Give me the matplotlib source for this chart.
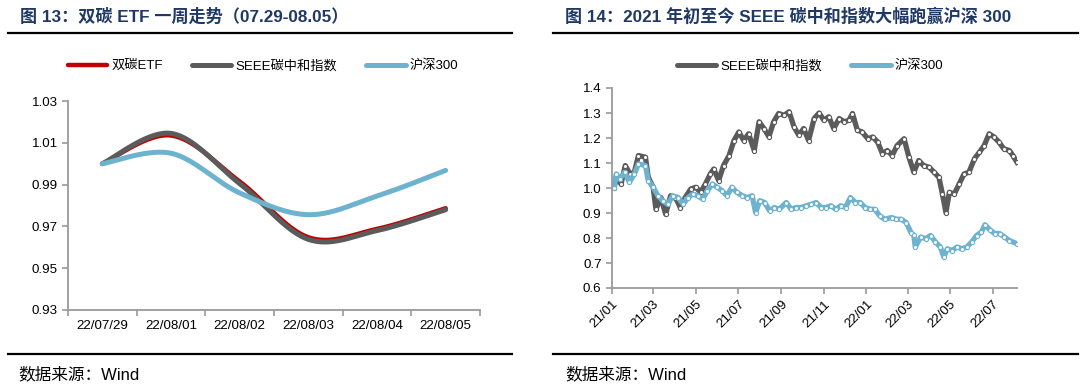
import numpy as np
import pandas as pd
import matplotlib
matplotlib.use('Agg')
import matplotlib.pyplot as plt
import matplotlib.dates as mdates
from matplotlib.lines import Line2D

plt.rcParams['font.family'] = ['Liberation Sans', 'Noto Sans CJK SC', 'DejaVu Sans']

# ---- left chart: one week of the ETF ----
week_days = ['22/07/29', '22/08/01', '22/08/02', '22/08/03', '22/08/04', '22/08/05']
etf = [1.000, 1.0135, 0.9915, 0.9648, 0.9688, 0.9787]
seee_week = [1.000, 1.0145, 0.9905, 0.9638, 0.9680, 0.9780]
hs300_week = [1.000, 1.0050, 0.9860, 0.9756, 0.9845, 0.9968]

# ---- right chart: since start of 2021 ----
seee_dates = ['2021-01-04', '2021-01-07', '2021-01-14', '2021-01-20', '2021-01-27', '2021-02-02',
              '2021-02-08', '2021-02-18', '2021-02-22', '2021-03-01', '2021-03-05', '2021-03-12',
              '2021-03-19', '2021-03-26', '2021-04-02', '2021-04-09', '2021-04-16', '2021-04-24',
              '2021-05-01', '2021-05-08', '2021-05-15', '2021-05-22', '2021-05-27', '2021-06-03',
              '2021-06-10', '2021-06-18', '2021-06-25', '2021-07-02', '2021-07-09', '2021-07-16',
              '2021-07-24', '2021-07-31', '2021-08-07', '2021-08-14', '2021-08-21', '2021-08-28',
              '2021-09-05', '2021-09-12', '2021-09-19', '2021-09-26', '2021-10-03', '2021-10-10',
              '2021-10-18', '2021-10-25', '2021-11-01', '2021-11-08', '2021-11-15', '2021-11-23',
              '2021-11-30', '2021-12-07', '2021-12-12', '2021-12-19', '2021-12-26', '2022-01-03',
              '2022-01-10', '2022-01-17', '2022-01-24', '2022-01-31', '2022-02-07', '2022-02-14',
              '2022-02-24', '2022-03-03', '2022-03-10', '2022-03-17', '2022-03-24', '2022-04-01',
              '2022-04-08', '2022-04-15', '2022-04-20', '2022-04-25', '2022-04-30', '2022-05-07',
              '2022-05-14', '2022-05-21', '2022-05-28', '2022-06-05', '2022-06-12', '2022-06-19',
              '2022-06-26', '2022-07-03', '2022-07-10', '2022-07-17', '2022-07-25', '2022-07-30',
              '2022-08-05']
seee = [1.000, 1.043, 1.016, 1.090, 1.056, 1.063, 1.130, 1.123, 1.043, 1.003, 0.915, 0.962,
        0.895, 0.969, 0.962, 0.922, 0.962, 0.996, 1.003, 0.983, 1.016, 1.056, 1.076, 1.030,
        1.090, 1.130, 1.190, 1.224, 1.190, 1.217, 1.150, 1.265, 1.238, 1.205, 1.265, 1.298,
        1.291, 1.305, 1.245, 1.211, 1.238, 1.190, 1.278, 1.300, 1.271, 1.285, 1.238, 1.278,
        1.265, 1.271, 1.298, 1.231, 1.224, 1.197, 1.204, 1.184, 1.137, 1.150, 1.130, 1.170,
        1.197, 1.123, 1.063, 1.110, 1.090, 1.083, 1.063, 1.043, 0.976, 0.902, 0.983, 0.976,
        1.016, 1.056, 1.063, 1.117, 1.143, 1.170, 1.217, 1.204, 1.184, 1.157, 1.150, 1.130,
        1.103]

hs300_dates = ['2021-01-04', '2021-01-07', '2021-01-12', '2021-01-19', '2021-01-26', '2021-02-02',
               '2021-02-08', '2021-02-18', '2021-02-22', '2021-03-01', '2021-03-08', '2021-03-15',
               '2021-03-22', '2021-03-29', '2021-04-06', '2021-04-13', '2021-04-20', '2021-04-27',
               '2021-05-04', '2021-05-11', '2021-05-18', '2021-05-25', '2021-06-01', '2021-06-08',
               '2021-06-15', '2021-06-22', '2021-06-29', '2021-07-07', '2021-07-14', '2021-07-21',
               '2021-07-26', '2021-08-01', '2021-08-08', '2021-08-15', '2021-08-22', '2021-08-29',
               '2021-09-08', '2021-09-15', '2021-09-22', '2021-09-29', '2021-10-07', '2021-10-14',
               '2021-10-21', '2021-10-28', '2021-11-04', '2021-11-11', '2021-11-18', '2021-11-25',
               '2021-12-02', '2021-12-09', '2021-12-16', '2021-12-23', '2021-12-30', '2022-01-06',
               '2022-01-13', '2022-01-20', '2022-01-27', '2022-02-06', '2022-02-13', '2022-02-20',
               '2022-02-27', '2022-03-06', '2022-03-10', '2022-03-12', '2022-03-20', '2022-03-27',
               '2022-04-03', '2022-04-10', '2022-04-17', '2022-04-22', '2022-04-27', '2022-05-04',
               '2022-05-11', '2022-05-18', '2022-05-25', '2022-06-01', '2022-06-08', '2022-06-15',
               '2022-06-20', '2022-06-27', '2022-07-04', '2022-07-11', '2022-07-18', '2022-07-25',
               '2022-08-05']
hs300 = [1.000, 1.056, 1.036, 1.063, 1.023, 1.056, 1.096, 1.090, 1.030, 1.003, 0.969, 0.949,
         0.935, 0.969, 0.962, 0.935, 0.962, 0.976, 0.969, 0.956, 0.989, 1.016, 1.003, 0.989,
         0.969, 1.003, 0.983, 0.969, 0.962, 0.969, 0.902, 0.949, 0.942, 0.909, 0.922, 0.915,
         0.942, 0.915, 0.922, 0.922, 0.929, 0.935, 0.942, 0.922, 0.922, 0.929, 0.915, 0.929,
         0.922, 0.962, 0.942, 0.942, 0.922, 0.915, 0.915, 0.889, 0.875, 0.882, 0.875, 0.875,
         0.862, 0.821, 0.811, 0.764, 0.804, 0.797, 0.810, 0.784, 0.764, 0.724, 0.757, 0.750,
         0.764, 0.757, 0.764, 0.784, 0.810, 0.824, 0.853, 0.833, 0.818, 0.818, 0.804, 0.790,
         0.777]

RED = '#C00000'
GRAY = '#5B5B5B'
BLUE = '#6DB3D0'
NAVY = '#1F3864'
AXC = '#9A9A9A'
W, H = 1080, 384


def fx(x):
    return x / W


def fy(y):
    return 1 - y / H


def smooth(xs, ys, n=40):
    # catmull-rom, close to excel's "smoothed line"
    p = np.column_stack([xs, ys]).astype(float)
    p = np.vstack([p[0], p, p[-1]])
    t = np.linspace(0, 1, n)[:, None]
    segs = []
    for i in range(1, len(p) - 2):
        p0, p1, p2, p3 = p[i - 1], p[i], p[i + 1], p[i + 2]
        segs.append(0.5 * (2 * p1 + (-p0 + p2) * t + (2 * p0 - 5 * p1 + 4 * p2 - p3) * t ** 2
                           + (-p0 + 3 * p1 - 3 * p2 + p3) * t ** 3))
    c = np.vstack(segs)
    return c[:, 0], c[:, 1]


def style_axes(ax):
    for s in ['top', 'right']:
        ax.spines[s].set_visible(False)
    for s in ['left', 'bottom']:
        ax.spines[s].set_color(AXC)
        ax.spines[s].set_linewidth(1.3)
    ax.tick_params(which='both', colors=AXC, labelcolor='black', labelsize=9.6, width=1.2)
    ax.tick_params(which='major', length=4)


fig = plt.figure(figsize=(10.8, 3.84), dpi=100)

# ---------- left ----------
ax1 = fig.add_axes([fx(68), fy(310), fx(480 - 68), (310 - 101) / H])
xi = np.arange(len(week_days))
for vals, col, lw in [(etf, RED, 3.2), (seee_week, GRAY, 3.6), (hs300_week, BLUE, 3.6)]:
    sx, sy = smooth(xi, vals)
    ax1.plot(sx, sy, color=col, lw=lw, solid_capstyle='round')
ax1.set_xlim(-0.5, len(week_days) - 0.5)
ax1.set_ylim(0.93, 1.03)
ax1.set_yticks(np.arange(0.93, 1.031, 0.02))
ax1.set_yticklabels(['%.2f' % v for v in np.arange(0.93, 1.031, 0.02)])
ax1.set_xticks(np.arange(-0.5, len(week_days)))
ax1.set_xticklabels([])
ax1.set_xticks(xi, minor=True)
ax1.set_xticklabels(week_days, minor=True)
style_axes(ax1)
ax1.tick_params(axis='x', which='minor', length=0, pad=7)

h1 = [Line2D([], [], color=RED, lw=3.2, solid_capstyle='round'),
      Line2D([], [], color=GRAY, lw=3.6, solid_capstyle='round'),
      Line2D([], [], color=BLUE, lw=3.6, solid_capstyle='round')]
fig.legend(h1, ['双碳ETF', 'SEEE碳中和指数', '沪深300'], loc='center',
           bbox_to_anchor=(fx(263), fy(66)), ncol=3, frameon=False, fontsize=9.5,
           handlelength=3.0, columnspacing=2.2, handletextpad=0.3)

# ---------- right ----------
ax2 = fig.add_axes([fx(612), fy(288), fx(1017 - 612), (288 - 88) / H])
d_seee = pd.to_datetime(seee_dates)
d_hs = pd.to_datetime(hs300_dates)
ax2.plot(d_seee, seee, color=GRAY, lw=3.8, marker='o', ms=3.0, mfc='white', mec=GRAY, mew=0.8)
ax2.plot(d_hs, hs300, color=BLUE, lw=3.8, marker='o', ms=3.0, mfc='white', mec=BLUE, mew=0.8)
ax2.set_ylim(0.6, 1.4)
ax2.set_yticks(np.arange(0.6, 1.41, 0.1))
ax2.set_yticklabels(['%.1f' % v for v in np.arange(0.6, 1.41, 0.1)])
ax2.set_xlim(pd.Timestamp('2021-01-01'), pd.Timestamp('2022-08-05'))
ax2.xaxis.set_major_locator(mdates.MonthLocator(bymonth=[1, 3, 5, 7, 9, 11]))
ax2.xaxis.set_major_formatter(mdates.DateFormatter('%y/%m'))
style_axes(ax2)
for lb in ax2.get_xticklabels():
    lb.set_rotation(45)
    lb.set_ha('right')
    lb.set_rotation_mode('anchor')

h2 = [Line2D([], [], color=GRAY, lw=3.6, solid_capstyle='round'),
      Line2D([], [], color=BLUE, lw=3.6, solid_capstyle='round')]
fig.legend(h2, ['SEEE碳中和指数', '沪深300'], loc='center',
           bbox_to_anchor=(fx(810), fy(66)), ncol=2, frameon=False, fontsize=9.5,
           handlelength=3.0, columnspacing=2.2, handletextpad=0.3)

# ---------- titles, rules, sources ----------
title_font = ['Liberation Sans', 'Noto Sans CJK SC']
fig.text(fx(20), fy(16), '图 13：双碳 ETF 一周走势（07.29-08.05）', fontsize=12.3,
         fontweight='bold', color=NAVY, va='center', family=title_font)
fig.text(fx(565), fy(16), '图 14：2021 年初至今 SEEE 碳中和指数大幅跑赢沪深 300', fontsize=12.3,
         fontweight='bold', color=NAVY, va='center', family=title_font)
for x0, x1 in [(8, 512), (553, 1078)]:
    for y in (33, 354):
        fig.add_artist(Line2D([fx(x0), fx(x1)], [fy(y), fy(y)], color='black', lw=1.6,
                              transform=fig.transFigure))
fig.text(fx(18), fy(374), '数据来源：Wind', fontsize=12, va='center', family=title_font)
fig.text(fx(565), fy(374), '数据来源：Wind', fontsize=12, va='center', family=title_font)

fig.savefig('out.png', dpi=100)
